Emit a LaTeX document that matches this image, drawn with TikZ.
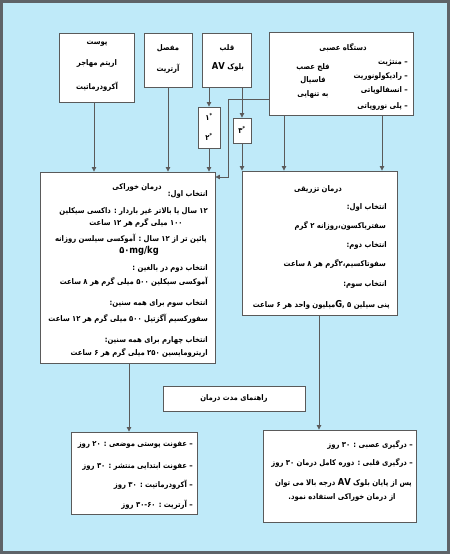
\documentclass[tikz,border=0pt]{standalone}
\usepackage{fontspec}
\usepackage{xcolor}
\usepackage{tikz}
\usetikzlibrary{positioning,arrows.meta}
\TeXXeTstate=1
\newfontfamily\arabicfont[Script=Arabic,FakeStretch=0.88]{DejaVu Sans}
\definecolor{dmsky}{RGB}{191,234,249}
\definecolor{dmframe}{RGB}{94,99,104}
\definecolor{dmline}{RGB}{90,90,90}
\newcommand\fa[1]{\beginR #1\endR}
\newcommand\lat[1]{\beginL{\fontsize{9.5}{10}\selectfont #1}\endL}

\begin{document}
\begin{tikzpicture}[x=1pt,y=-1pt]
	\tikzset{
		dmbox/.style={
			draw=dmline,
			line width=0.9pt,
			fill=white,
			inner sep=0pt
		},
		dmtxt/.style={
			inner sep=0pt,
			font=\arabicfont\bfseries\fontsize{7.8}{9}\selectfont,
			text=black
		},
		dmedge/.style={draw=dmline,line width=0.8pt,-{Triangle[length=4.5pt,width=4.5pt]}},
		dmline/.style={draw=dmline,line width=0.8pt}
	}
	\useasboundingbox (0,0) rectangle (450,554);
	\draw[draw=dmframe,line width=2.6pt,fill=dmsky] (1.3,1.3) rectangle (448.7,552.7);
	
	% جعبه‌های بالا
	\node[dmbox,minimum width=75pt,minimum height=69pt] (pust) at (96.5,67.5) {};
	\node[dmbox,minimum width=48pt,minimum height=54pt] (mafsal) at (168,60) {};
	\node[dmbox,minimum width=49pt,minimum height=54pt] (qalb) at (226.5,60) {};
	\node[dmbox,minimum width=144pt,minimum height=83pt] (asabi) at (341,73.5) {};
	\node[dmbox,minimum width=22pt,minimum height=41pt] (s12) at (209,127.5) {};
	\node[dmbox,minimum width=18pt,minimum height=25pt] (s3) at (242,130.5) {};
	\node[dmbox,minimum width=175pt,minimum height=191pt] (khorak) at (127.5,267.5) {};
	\node[dmbox,minimum width=155pt,minimum height=144pt] (tazrigh) at (319.5,243) {};
	\node[dmbox,minimum width=142pt,minimum height=25pt] (rahnama) at (234,398.5) {};
	\node[dmbox,minimum width=126pt,minimum height=82pt] (modat1) at (134,473) {};
	\node[dmbox,minimum width=153pt,minimum height=92pt] (modat2) at (339.5,476) {};
	
	\node[dmtxt] (pust1) at (97,44) {\fa{پوست}};
	\node[dmtxt] (pust2) at (97,63) {\fa{اریتم مهاجر}};
	\node[dmtxt] (pust3) at (97,87) {\fa{آکرودرماتیت}};
	\node[dmtxt] (mafsal1) at (168,48) {\fa{مفصل}};
	\node[dmtxt] (mafsal2) at (168,69) {\fa{آرتریت}};
	\node[dmtxt] (qalb1) at (227,48) {\fa{قلب}};
	\node[dmtxt] (qalb2) at (228,67) {\fa{بلوک \lat{AV}}};
	\node[dmtxt] (s12a) at (209,117) {۱\textsuperscript{*}};
	\node[dmtxt] (s12b) at (209,137) {۲\textsuperscript{*}};
	\node[dmtxt] (s3a) at (242,130) {۳\textsuperscript{*}};
	
	\node[dmtxt] (asabi0) at (343,48) {\fa{دستگاه عصبی}};
	\node[dmtxt,anchor=east] (asabi1) at (408,63) {\fa{– منتژیت}};
	\node[dmtxt,anchor=east] (asabi2) at (408,76) {\fa{– رادیکولونوریت}};
	\node[dmtxt,anchor=east] (asabi3) at (408,90) {\fa{– انسفالوپاتی}};
	\node[dmtxt,anchor=east] (asabi4) at (408,106) {\fa{– پلی نوروپاتی}};
	\node[dmtxt] (asabi5) at (313,67) {\fa{فلج عصب}};
	\node[dmtxt] (asabi6) at (313,80) {\fa{فاسیال}};
	\node[dmtxt] (asabi7) at (313,94) {\fa{به تنهایی}};
	
	% درمان خوراکی
	\node[dmtxt] (kh0) at (137,187) {\fa{درمان خوراکی}};
	\node[dmtxt,anchor=east] (kh1) at (208,194) {\fa{انتخاب اول:}};
	\node[dmtxt,anchor=east] (kh2) at (208,211) {\fa{۱۲ سال یا بالاتر غیر باردار : داکسی سیکلین}};
	\node[dmtxt] (kh3) at (136,223) {\fa{۱۰۰ میلی گرم هر ۱۲ ساعت}};
	\node[dmtxt,anchor=east] (kh4) at (207,239) {\fa{پائین تر از ۱۲ سال : آموکسی سیلسن روزانه}};
	\node[dmtxt] (kh5) at (139,251) {\lat{۵۰mg/kg}};
	\node[dmtxt,anchor=east] (kh6) at (208,268) {\fa{انتخاب دوم در بالغین :}};
	\node[dmtxt,anchor=east] (kh7) at (208,282) {\fa{آموکسی سیکلین ۵۰۰ میلی گرم هر ۸ ساعت}};
	\node[dmtxt,anchor=east] (kh8) at (208,303) {\fa{انتخاب سوم برای همه سنین:}};
	\node[dmtxt,anchor=east] (kh9) at (208,319) {\fa{سفورکسیم آگزتیل ۵۰۰ میلی گرم هر ۱۲ ساعت}};
	\node[dmtxt,anchor=east] (kh10) at (208,340) {\fa{انتخاب چهارم برای همه سنین:}};
	\node[dmtxt,anchor=east] (kh11) at (208,353) {\fa{اریترومایسین ۲۵۰ میلی گرم هر ۶ ساعت}};
	
	% درمان تزریقی
	\node[dmtxt] (tz0) at (318,189) {\fa{درمان تزریقی}};
	\node[dmtxt,anchor=east] (tz1) at (387,207) {\fa{انتخاب اول:}};
	\node[dmtxt,anchor=east] (tz2) at (386,226) {\fa{سفتریاکسون،روزانه ۲ گرم}};
	\node[dmtxt,anchor=east] (tz3) at (387,245) {\fa{انتخاب دوم:}};
	\node[dmtxt,anchor=east] (tz4) at (386,264) {\fa{سفوتاکسیم،۲گرم هر ۸ ساعت}};
	\node[dmtxt,anchor=east] (tz5) at (387,284) {\fa{انتخاب سوم:}};
	\node[dmtxt,anchor=east] (tz6) at (390,305) {\fa{پنی سیلین ۵ ,\lat{G}میلیون واحد هر ۶ ساعت}};
	
	\node[dmtxt] (rh0) at (234,398) {\fa{راهنمای مدت درمان}};
	
	\node[dmtxt,anchor=east] (md1) at (193,445) {\fa{– عفونت پوستی موضعی : ۲۰ روز}};
	\node[dmtxt,anchor=east] (md2) at (193,466) {\fa{– عفونت ابتدایی منتشر : ۳۰ روز}};
	\node[dmtxt,anchor=east] (md3) at (193,485) {\fa{– آکرودرماتیت : ۳۰ روز}};
	\node[dmtxt,anchor=east] (md4) at (193,505) {\fa{– آرتریت : \beginL ۳۰-۶۰\endL{} روز}};
	\node[dmtxt,anchor=east] (md5) at (413,445) {\fa{– درگیری عصبی : ۳۰ روز}};
	\node[dmtxt,anchor=east] (md6) at (413,463) {\fa{– درگیری قلبی : دوره کامل درمان ۳۰ روز}};
	\node[dmtxt,anchor=east] (md7) at (412,483) {\fa{پس از پایان بلوک \lat{AV} درجه بالا می توان}};
	\node[dmtxt] (md8) at (342,497) {\fa{از درمان خوراکی استفاده نمود.}};
	
	% پیکان‌ها
	\coordinate (elb) at (228,99);
	\coordinate (ej) at (228,177);
	\draw[dmedge] (pust.south -| 94,0) -- (khorak.north -| 94,0);
	\draw[dmedge] (mafsal.south) -- (mafsal.south |- khorak.north);
	\draw[dmedge] (qalb.south -| s12.north) -- (s12.north);
	\draw[dmedge] (s12.south) -- (s12.south |- khorak.north);
	\draw[dmedge] (qalb.south -| s3.north) -- (s3.north);
	\draw[dmedge] (s3.south) -- (s3.south |- tazrigh.north);
	\draw[dmedge] (asabi.west |- elb) -- (elb) -- (ej) -- (ej -| khorak.east);
	\draw[dmedge] (asabi.south -| 284,0) -- (tazrigh.north -| 284,0);
	\draw[dmedge] (asabi.south -| 382,0) -- (tazrigh.north -| 382,0);
	\draw[dmedge] (khorak.south -| 129,0) -- (modat1.north -| 129,0);
	\draw[dmedge] (tazrigh.south -| 319,0) -- (modat2.north -| 319,0);
\end{tikzpicture}
\end{document}
